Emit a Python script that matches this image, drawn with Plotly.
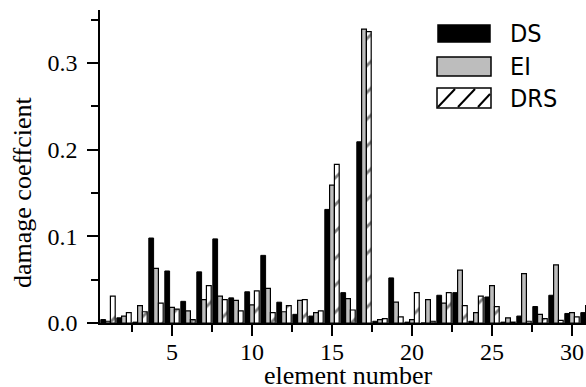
import plotly.graph_objects as go

elements = list(range(1, 32))
ds = [0.004, 0.006, 0.001, 0.098, 0.060, 0.025, 0.059, 0.097, 0.029, 0.036,
      0.078, 0.024, 0.010, 0.008, 0.131, 0.035, 0.209, 0.002, 0.052, 0.001,
      0.0, 0.032, 0.035, 0.002, 0.030, 0.001, 0.008, 0.019, 0.032, 0.011, 0.012]
ei = [0.002, 0.008, 0.020, 0.063, 0.018, 0.014, 0.027, 0.031, 0.026, 0.021,
      0.040, 0.013, 0.026, 0.012, 0.159, 0.028, 0.339, 0.004, 0.024, 0.004,
      0.027, 0.023, 0.061, 0.012, 0.043, 0.006, 0.057, 0.010, 0.067, 0.012, 0.020]
drs = [0.031, 0.012, 0.013, 0.023, 0.016, 0.004, 0.043, 0.027, 0.014, 0.037,
       0.012, 0.020, 0.027, 0.014, 0.183, 0.015, 0.336, 0.005, 0.007, 0.035,
       0.002, 0.035, 0.020, 0.031, 0.019, 0.001, 0.002, 0.005, 0.003, 0.007, None]
series_names = ["DS", "EI", "DRS"]
x_ticks = [5, 10, 15, 20, 25, 30]
y_ticks = [0.0, 0.1, 0.2, 0.3]
x_title = "element number"
y_title = "damage coeffcient"

W, H = 586, 387
L, R, T, B = 100, 0, 10, 64
pw, ph = W - L - R, H - T - B

serif = "Liberation Serif"
sans = "Liberation Sans Narrow, DejaVu Sans Condensed, sans-serif"

fig = go.Figure()
fig.add_trace(go.Bar(x=elements, y=ds, name=series_names[0],
                     marker=dict(color="black", line=dict(color="black", width=1))))
fig.add_trace(go.Bar(x=elements, y=ei, name=series_names[1],
                     marker=dict(color="#bdbdbd", line=dict(color="black", width=1.2))))
fig.add_trace(go.Bar(x=elements, y=drs, name=series_names[2],
                     marker=dict(color="white", line=dict(color="black", width=1.2),
                                 pattern=dict(shape="/", fgcolor="black", bgcolor="white",
                                              size=19, solidity=0.15))))

def px(xp):
    return (xp - L) / pw

def py(yp):
    return (H - B - yp) / ph

shapes = []
boxes = [(438, 25, 490, 42, "black"), (437, 57, 491, 76, "#bdbdbd"), (437, 88, 491, 108, "white")]
for x0, y0, x1, y1, c in boxes:
    shapes.append(dict(type="rect", xref="paper", yref="paper", x0=px(x0), x1=px(x1),
                       y0=py(y1), y1=py(y0), fillcolor=c, line=dict(color="black", width=1.5)))
hatch = [((438, 107), (455, 89)), ((458, 107), (475, 89)), ((478, 107), (490, 94))]
for (a, b), (c, d) in hatch:
    shapes.append(dict(type="line", xref="paper", yref="paper", x0=px(a), y0=py(b),
                       x1=px(c), y1=py(d), line=dict(color="black", width=2)))

annotations = []
for name, yc in zip(series_names, [33.5, 66.5, 98]):
    annotations.append(dict(text=name, xref="paper", yref="paper", x=px(508), y=py(yc),
                            xanchor="left", yanchor="middle", showarrow=False,
                            font=dict(family=sans, size=25, color="black")))
annotations.append(dict(text=x_title, xref="paper", yref="paper", x=px(348), y=py(375),
                        xanchor="center", yanchor="middle", showarrow=False,
                        font=dict(family=serif, size=26, color="black")))
annotations.append(dict(text=y_title, xref="paper", yref="paper", x=px(22), y=py(192),
                        xanchor="center", yanchor="middle", showarrow=False, textangle=-90,
                        font=dict(family=serif, size=26, color="black")))

fig.update_layout(
    width=W, height=H, margin=dict(l=L, r=R, t=T, b=B, autoexpand=False),
    paper_bgcolor="white", plot_bgcolor="white",
    barmode="group", bargap=0.1, bargroupgap=0.0,
    showlegend=False, shapes=shapes, annotations=annotations,
    font=dict(family=serif, size=24, color="black"),
    xaxis=dict(range=[0.5, 0.5 + pw / 16.0], tickvals=x_ticks, ticks="outside", ticklen=11,
               tickwidth=1.5, tickcolor="black", showline=True, linecolor="black", linewidth=1.5,
               showgrid=False, zeroline=False, automargin=False, ticklabelstandoff=-5,
               minor=dict(dtick=2.5, tick0=0, ticks="outside", ticklen=7, tickwidth=1.5, tickcolor="black"),
               tickfont=dict(family=serif, size=24, color="black")),
    yaxis=dict(range=[0, ph / 867.0], tickvals=y_ticks, tickformat=".1f", ticks="outside", ticklen=11,
               tickwidth=1.5, tickcolor="black", showline=True, linecolor="black", linewidth=1.5,
               showgrid=False, zeroline=False, automargin=False, ticklabelstandoff=5,
               minor=dict(dtick=0.05, tick0=0, ticks="outside", ticklen=7, tickwidth=1.5, tickcolor="black"),
               tickfont=dict(family=serif, size=24, color="black")),
)

fig.write_html("out.html", config={"displayModeBar": False},
               post_script="document.body.style.margin='0';document.body.style.overflow='hidden';")
